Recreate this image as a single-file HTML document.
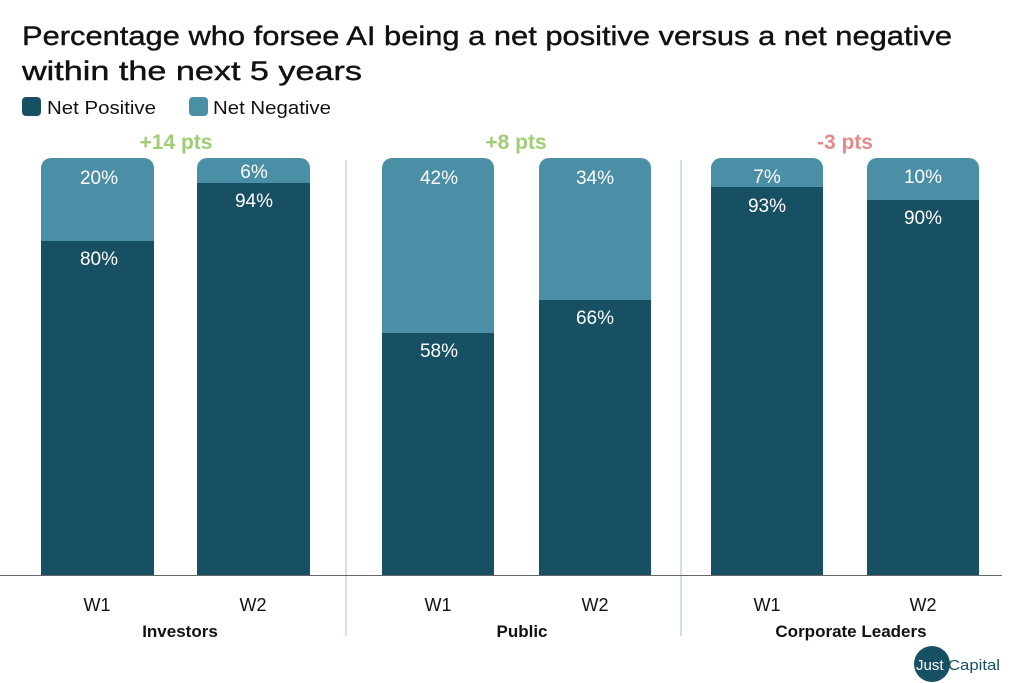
<!DOCTYPE html>
<html><head><meta charset="utf-8"><style>
html,body{margin:0;padding:0;background:#fff;}
svg{display:block;font-family:"Liberation Sans",sans-serif;}
</style></head><body>
<svg width="1024" height="683" viewBox="0 0 1024 683" xmlns="http://www.w3.org/2000/svg">
<text x="22" y="45" font-size="27" fill="#111" stroke="#111" stroke-width="0.4" textLength="930" lengthAdjust="spacingAndGlyphs">Percentage who forsee AI being a net positive versus a net negative</text>
<text x="22" y="80" font-size="27" fill="#111" stroke="#111" stroke-width="0.4" textLength="340" lengthAdjust="spacingAndGlyphs">within the next 5 years</text>
<rect x="22" y="97" width="19" height="19" rx="4" fill="#174f63"/>
<text x="47" y="114" font-size="18" fill="#111" textLength="109" lengthAdjust="spacingAndGlyphs">Net Positive</text>
<rect x="189" y="97" width="19" height="19" rx="4" fill="#4a8fa5"/>
<text x="213" y="114" font-size="18" fill="#111" textLength="118" lengthAdjust="spacingAndGlyphs">Net Negative</text>
<g font-size="21" font-weight="bold" text-anchor="middle">
<text x="176" y="149" fill="#9fcd73">+14 pts</text>
<text x="516" y="149" fill="#9fcd73">+8 pts</text>
<text x="845" y="149" fill="#e58a8a">-3 pts</text>
</g>
<line x1="346" y1="160" x2="346" y2="636" stroke="#c9d6dc" stroke-width="1.5"/>
<line x1="681" y1="160" x2="681" y2="636" stroke="#c9d6dc" stroke-width="1.5"/>
<g>
<rect x="41" y="158" width="113" height="418" rx="10" fill="#4a8fa5"/>
<rect x="41" y="241" width="113" height="335" fill="#174f63"/>
<rect x="197" y="158" width="113" height="418" rx="10" fill="#4a8fa5"/>
<rect x="197" y="183" width="113" height="393" fill="#174f63"/>
<rect x="382" y="158" width="112" height="418" rx="10" fill="#4a8fa5"/>
<rect x="382" y="333" width="112" height="243" fill="#174f63"/>
<rect x="539" y="158" width="112" height="418" rx="10" fill="#4a8fa5"/>
<rect x="539" y="300" width="112" height="276" fill="#174f63"/>
<rect x="711" y="158" width="112" height="418" rx="10" fill="#4a8fa5"/>
<rect x="711" y="187" width="112" height="389" fill="#174f63"/>
<rect x="867" y="158" width="112" height="418" rx="10" fill="#4a8fa5"/>
<rect x="867" y="200" width="112" height="376" fill="#174f63"/>
</g>
<line x1="0" y1="575.5" x2="1002" y2="575.5" stroke="#666" stroke-width="1"/>
<g font-size="19" fill="#fff" text-anchor="middle">
<text x="99" y="184">20%</text><text x="99" y="265">80%</text>
<text x="254" y="178">6%</text><text x="254" y="207">94%</text>
<text x="439" y="184">42%</text><text x="439" y="357">58%</text>
<text x="595" y="184">34%</text><text x="595" y="324">66%</text>
<text x="767" y="183">7%</text><text x="767" y="212">93%</text>
<text x="923" y="183">10%</text><text x="923" y="224">90%</text>
</g>
<g font-size="18" fill="#111" text-anchor="middle">
<text x="97" y="611">W1</text><text x="253" y="611">W2</text>
<text x="438" y="611">W1</text><text x="595" y="611">W2</text>
<text x="767" y="611">W1</text><text x="923" y="611">W2</text>
</g>
<g font-size="17" font-weight="bold" fill="#111" text-anchor="middle">
<text x="180" y="637">Investors</text>
<text x="522" y="637">Public</text>
<text x="851" y="637">Corporate Leaders</text>
</g>
<circle cx="932" cy="664" r="18" fill="#174f63"/>
<text x="916" y="670" font-size="15" fill="#fff">Just</text>
<text x="948" y="670" font-size="15" fill="#174f63" textLength="52" lengthAdjust="spacingAndGlyphs">Capital</text>
</svg>
</body></html>
